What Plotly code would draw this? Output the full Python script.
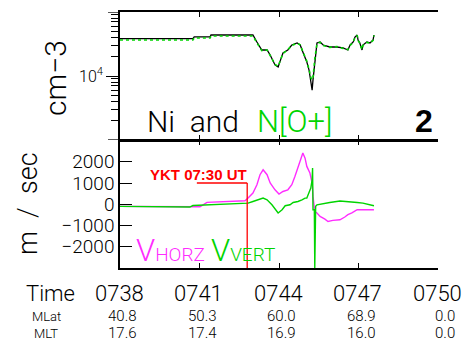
import plotly.graph_objects as go

DAY = "2000-01-01 "

# ---- top panel: ion densities (cm^-3)
ni_time = ["07:38:00", "07:40:45", "07:40:48", "07:41:24", "07:41:26", "07:43:01", "07:43:10",
           "07:43:21", "07:43:33", "07:43:40", "07:43:51", "07:43:58", "07:44:02", "07:44:09",
           "07:44:20", "07:44:29", "07:44:41", "07:44:48", "07:44:54", "07:45:03", "07:45:08",
           "07:45:12", "07:45:15", "07:45:17", "07:45:21", "07:45:26", "07:45:33", "07:45:40",
           "07:45:55", "07:46:11", "07:46:25", "07:46:36", "07:46:41", "07:46:48", "07:46:52",
           "07:46:57", "07:46:59", "07:47:03", "07:47:08", "07:47:10", "07:47:19", "07:47:26",
           "07:47:33", "07:47:35"]
ni_vals = [38500, 38500, 41000, 41000, 43700, 43700, 34000,
           25500, 25500, 21300, 14900, 13800, 16600, 22900,
           25500, 30500, 32800, 30500, 23700, 16600, 12400,
           8700, 6000, 8700, 17800, 32800, 34000, 30500,
           28400, 28400, 27400, 25500, 30500, 34000, 40600,
           43700, 36500, 32800, 25500, 30500, 34000, 32800,
           36500, 43700]
no_vals = [36500, 36500, 39300, 39300, 42100, 42100, 33000,
           25000, 25500, 21000, 15200, 14200, 16800, 22500,
           25800, 30000, 32500, 30800, 24000, 17000, 12800,
           9500, 8700, 9500, 18500, 32000, 33500, 30000,
           28000, 28800, 27000, 25800, 30000, 33500, 40000,
           43000, 36000, 32500, 26000, 30000, 33500, 32500,
           36000, 43000]

# ---- bottom panel: velocities (m/s)
vh_time = ["07:38:00", "07:40:38", "07:41:01", "07:41:17", "07:42:09", "07:42:43", "07:42:50",
           "07:43:01", "07:43:10", "07:43:17", "07:43:24", "07:43:33", "07:43:40", "07:43:51",
           "07:44:00", "07:44:09", "07:44:20", "07:44:29", "07:44:36", "07:44:43", "07:44:50",
           "07:44:54", "07:44:59", "07:45:03", "07:45:10", "07:45:15", "07:45:17", "07:45:21",
           "07:45:26", "07:45:33", "07:45:44", "07:45:51", "07:46:02", "07:46:18", "07:46:29",
           "07:46:36", "07:46:45", "07:46:57", "07:47:10", "07:47:21", "07:47:31", "07:47:35"]
vh_vals = [-100, -130, -120, 90, 130, 165, 290,
           525, 920, 1390, 1620, 1390, 1000, 680,
           480, 600, 680, 920, 1310, 1780, 2250,
           2410, 2170, 1780, 1470, 1000, 370, -340,
           -410, -570, -700, -810, -760, -730, -600,
           -490, -410, -260, -260, -260, -290, -260]

vv_time = ["07:38:00", "07:40:38", "07:40:45", "07:42:09", "07:42:38", "07:42:50", "07:43:01",
           "07:43:12", "07:43:24", "07:43:33", "07:43:44", "07:43:58", "07:44:07", "07:44:14",
           "07:44:25", "07:44:32", "07:44:43", "07:44:52", "07:44:59", "07:45:03", "07:45:08",
           "07:45:12", "07:45:15", "07:45:16", "07:45:17", "07:45:20", "07:45:21", "07:45:23",
           "07:45:26", "07:45:37", "07:45:55", "07:46:18", "07:46:36", "07:46:57", "07:47:10",
           "07:47:26", "07:47:35"]
vv_vals = [-100, -130, -60, 25, 25, 55, 130,
           210, 290, 210, -25, -410, -260, -70,
           -25, 85, 130, 210, 290, 290, 525,
           760, 1150, 1700, -260, -260, -3000, -100,
           -25, 25, 85, 150, 130, 85, 55,
           -25, -70]

# ---- event marker
marker_time = "07:42:48"
marker_start = "07:40:54"
marker_level = 1000
marker_label = "YKT 07:30 UT"

# ---- orbit table
tick_times = ["07:38", "07:41", "07:44", "07:47", "07:50"]
time_labels = ["0738", "0741", "0744", "0747", "0750"]
mlat_labels = ["40.8", "50.3", "60.0", "68.9", "0.0"]
mlt_labels = ["17.6", "17.4", "16.9", "16.0", "0.0"]

W, H = 465, 345
def px(x):
    return x / W
def py(y):
    return (H - y) / H

GREEN = "#00d400"
MAG = "#ff2cff"
THIN = "Roboto"
TW = 300

def tf(size, color="black", family=THIN, weight=TW):
    return dict(size=size, color=color, family=family, weight=weight)

fig = go.Figure()
fig.add_trace(go.Scatter(x=[DAY + t for t in ni_time], y=ni_vals, mode="lines",
                         line=dict(color="black", width=1.3), xaxis="x", yaxis="y"))
fig.add_trace(go.Scatter(x=[DAY + t for t in ni_time], y=no_vals, mode="lines",
                         line=dict(color=GREEN, width=1.6, dash="dot"), xaxis="x", yaxis="y"))
fig.add_trace(go.Scatter(x=[DAY + t for t in vh_time], y=vh_vals, mode="lines",
                         line=dict(color=MAG, width=1.4), xaxis="x2", yaxis="y2"))
fig.add_trace(go.Scatter(x=[DAY + t for t in vv_time], y=vv_vals, mode="lines",
                         line=dict(color=GREEN, width=1.4), xaxis="x2", yaxis="y2"))

xr = [DAY + "07:38:00", DAY + "07:50:00"]
tv = [DAY + t + ":00" for t in tick_times]
xcommon = dict(range=xr, tickvals=tv, showticklabels=False, ticks="inside", ticklen=5,
               tickwidth=1.3, tickcolor="black", showline=True, linecolor="black", linewidth=1.5,
               mirror="ticks", showgrid=False, zeroline=False, automargin=False)
dom_x = [px(120), px(438)]

fig.update_layout(
    template="none",
    width=W, height=H, margin=dict(l=0, r=0, t=0, b=0, pad=0, autoexpand=False),
    paper_bgcolor="white", plot_bgcolor="white", showlegend=False,
    font=tf(14),
    xaxis=dict(domain=dom_x, anchor="y", **xcommon),
    xaxis2=dict(domain=dom_x, anchor="y2", **xcommon),
    yaxis=dict(domain=[py(140), py(12)], type="log", range=[3, 5], anchor="x",
               tickmode="array", tickvals=[1e4], ticktext=["10<sup>4</sup>"],
               ticks="outside", ticklen=12, tickwidth=1.3, tickcolor="black",
               tickfont=tf(16), automargin=False,
               minor=dict(tickmode="array",
                          tickvals=[2e3, 3e3, 4e3, 5e3, 6e3, 7e3, 8e3, 9e3,
                                    2e4, 3e4, 4e4, 5e4, 6e4, 7e4, 8e4, 9e4],
                          ticks="outside", ticklen=7, tickwidth=1.2, tickcolor="black", showgrid=False),
               showline=True, linecolor="black", linewidth=1.5, showgrid=False, zeroline=False),
    yaxis2=dict(domain=[py(268), py(140.5)], range=[-3000, 3000], anchor="x2",
                tickmode="array", tickvals=[-2000, -1000, 0, 1000, 2000], ticks="inside", ticklen=12,
                tickwidth=1.3, tickcolor="black", tickfont=tf(19), automargin=False,
                showline=True, linecolor="black", linewidth=1.5, showgrid=False, zeroline=False),
)

# long end ticks of the density axis (1e3 and 1e5)
for yy in (1e3, 1e5):
    fig.add_shape(type="line", xref="paper", yref="y", x0=px(108), x1=px(120), y0=yy, y1=yy,
                  line=dict(color="black", width=1.3))

# event marker lines
fig.add_shape(type="line", xref="x2", yref="y2", x0=DAY + marker_start, x1=DAY + marker_time,
              y0=marker_level, y1=marker_level, line=dict(color="red", width=1.3))
fig.add_shape(type="line", xref="x2", yref="y2", x0=DAY + marker_time, x1=DAY + marker_time,
              y0=marker_level, y1=-3000, line=dict(color="red", width=1.3))
fig.add_annotation(xref="x2", yref="y2", x=DAY + marker_time, y=marker_level, text="<b>" + marker_label + "</b>",
                   xanchor="right", yanchor="bottom", xshift=2, yshift=-2, showarrow=False,
                   font=dict(family="Liberation Sans", size=15, color="red", weight="bold"))

ann = []
# axis titles
ann.append(dict(xref="paper", yref="paper", x=px(55), y=py(78), text="cm\u22123", textangle=-90,
                xanchor="center", yanchor="middle", showarrow=False, font=tf(30)))
ann.append(dict(xref="paper", yref="paper", x=px(28), y=py(204), text="m\u00a0\u00a0/\u00a0\u00a0sec",
                xanchor="center", yanchor="middle", textangle=-90, showarrow=False, font=tf(27)))
# panel labels
ann.append(dict(xref="paper", yref="paper", x=px(145), y=py(121), xanchor="left", yanchor="middle",
                text="Ni\u00a0\u00a0and", showarrow=False, font=tf(30)))
ann.append(dict(xref="paper", yref="paper", x=px(255), y=py(121), xanchor="left", yanchor="middle",
                text="N[O+]", showarrow=False, font=tf(31, GREEN)))
ann.append(dict(xref="paper", yref="paper", x=px(424), y=py(121), xanchor="center", yanchor="middle",
                text="<b>2</b>", showarrow=False,
                font=dict(size=32, family="Liberation Sans", weight="bold", color="black")))
ann.append(dict(xref="paper", yref="paper", x=px(134), y=py(251), xanchor="left", yanchor="middle",
                text="V<span style='font-size:19px'>HORZ</span>", showarrow=False,
                font=tf(31, MAG)))
ann.append(dict(xref="paper", yref="paper", x=px(209), y=py(251), xanchor="left", yanchor="middle",
                text="V<span style='font-size:19px'>VERT</span>", showarrow=False,
                font=tf(31, GREEN)))
# orbit table
ann.append(dict(xref="paper", yref="paper", x=px(50), y=py(293), text="Time", showarrow=False,
                xanchor="center", yanchor="middle", font=tf(22)))
ann.append(dict(xref="paper", yref="paper", x=px(46), y=py(316), text="MLat", showarrow=False,
                xanchor="center", yanchor="middle", font=tf(13)))
ann.append(dict(xref="paper", yref="paper", x=px(46), y=py(333), text="MLT", showarrow=False,
                xanchor="center", yanchor="middle", font=tf(13)))
for t, a, b, c in zip(tv, time_labels, mlat_labels, mlt_labels):
    ann.append(dict(xref="x2", yref="paper", x=t, y=py(293), text=a, showarrow=False, xshift=-1,
                    xanchor="center", yanchor="middle", font=tf(22)))
    ann.append(dict(xref="x2", yref="paper", x=t, y=py(316), text=b, showarrow=False, xanchor="right",
                    yanchor="middle", xshift=19, font=tf(15)))
    ann.append(dict(xref="x2", yref="paper", x=t, y=py(333), text=c, showarrow=False, xanchor="right",
                    yanchor="middle", xshift=19, font=tf(15)))
for a in ann:
    fig.add_annotation(**a)

fig.write_html("out.html", config={"displayModeBar": False},
               post_script="document.body.style.margin='0';document.body.style.padding='0';")
